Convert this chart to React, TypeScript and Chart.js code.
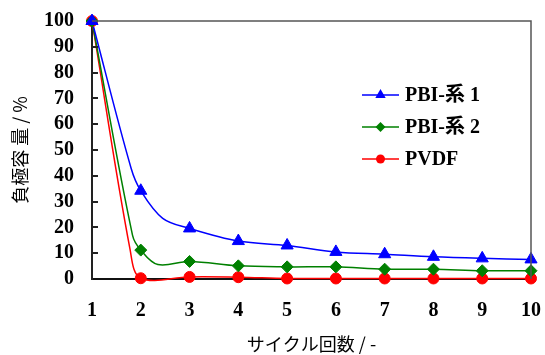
import React, { useEffect, useRef } from 'react';
import { Chart, registerables } from 'chart.js';

Chart.register(...registerables);

// Cycle positions (x) and capacity retention (%) for each series.
// Integer cycles carry markers; fractional positions only shape the curve.
const blueCycles = [1, 1.8, 2, 2.45, 3, 4, 5, 6, 7, 8, 9, 10];
const blueValues = [100, 43, 34.2, 23.5, 19.6, 14.7, 13.0, 10.5, 9.6, 8.6, 8.0, 7.6];
const greenCycles = [1, 1.83, 2, 2.35, 3, 4, 5, 6, 7, 8, 9, 10];
const greenValues = [100, 17, 11.2, 5.6, 6.8, 5.1, 4.7, 4.7, 3.8, 3.8, 3.2, 3.2];
const redCycles = [1, 1.78, 2, 3, 4, 5, 6, 7, 8, 9, 10];
const redValues = [100, 11.5, 0.3, 0.8, 0.7, 0.2, 0.2, 0.2, 0.2, 0.2, 0.2];

const seriesNames = ['PBI-系 1', 'PBI-系 2', 'PVDF'];
const seriesColors = ['#0000ff', '#008000', '#ff0000'];
const seriesMarkers = ['triangle', 'rectRot', 'circle'];
const markerSizes = [7, 6, 5.5];

const xTitle = 'サイクル回数 / -';
const yTitle = '負極容 量 / %';
const xMin = 1, xMax = 10, yMin = 0, yMax = 100, yStep = 10;

const NUM_FONT = '"Liberation Serif", "Times New Roman", serif';
const CJK_FONT = '"Noto Sans CJK JP", "Noto Sans", sans-serif';

function toPoints(xs: number[], ys: number[]) {
  return xs.map((x, i) => ({ x, y: ys[i] }));
}

function drawMarker(ctx: CanvasRenderingContext2D, style: string, x: number, y: number, r: number, color: string) {
  ctx.save();
  ctx.fillStyle = color;
  ctx.strokeStyle = color;
  ctx.beginPath();
  if (style === 'triangle') {
    ctx.moveTo(x, y - r);
    ctx.lineTo(x + r * Math.sqrt(3) / 2, y + r / 2);
    ctx.lineTo(x - r * Math.sqrt(3) / 2, y + r / 2);
    ctx.closePath();
  } else if (style === 'rectRot') {
    ctx.moveTo(x, y - r);
    ctx.lineTo(x + r, y);
    ctx.lineTo(x, y + r);
    ctx.lineTo(x - r, y);
    ctx.closePath();
  } else {
    ctx.arc(x, y, r, 0, Math.PI * 2);
  }
  ctx.fill();
  ctx.restore();
}

const framePlugin = {
  id: 'frameAndLegend',
  afterDatasetsDraw(chart: any) {
    const { ctx, chartArea, scales } = chart;
    const { left, right, top, bottom } = chartArea;
    ctx.save();
    // top and right frame
    ctx.strokeStyle = '#555';
    ctx.lineWidth = 1.5;
    ctx.beginPath();
    ctx.moveTo(left, top);
    ctx.lineTo(right, top);
    ctx.lineTo(right, bottom);
    ctx.stroke();
    // inside tick marks on y axis
    ctx.strokeStyle = '#222';
    ctx.lineWidth = 2;
    for (let v = yMin + yStep; v < yMax; v += yStep) {
      const py = Math.round(scales.y.getPixelForValue(v));
      ctx.beginPath();
      ctx.moveTo(left, py);
      ctx.lineTo(left + 6, py);
      ctx.stroke();
    }
    // legend
    const lx0 = 362, lx1 = 399, tx = 405;
    const rows = [95, 127, 159];
    ctx.font = `bold 20px ${NUM_FONT}, ${CJK_FONT}`;
    ctx.textBaseline = 'middle';
    ctx.textAlign = 'left';
    seriesNames.forEach((name, i) => {
      const y = rows[i];
      ctx.strokeStyle = seriesColors[i];
      ctx.lineWidth = 1.5;
      ctx.beginPath();
      ctx.moveTo(lx0, y);
      ctx.lineTo(lx1, y);
      ctx.stroke();
      drawMarker(ctx, seriesMarkers[i], (lx0 + lx1) / 2, y, markerSizes[i] - 1, seriesColors[i]);
      ctx.fillStyle = '#000';
      ctx.fillText(name, tx, y + 1);
    });
    ctx.restore();
  },
};

export default function App() {
  const ref = useRef<HTMLCanvasElement>(null);
  useEffect(() => {
    if (!ref.current) return;
    const all = [
      { xs: blueCycles, ys: blueValues },
      { xs: greenCycles, ys: greenValues },
      { xs: redCycles, ys: redValues },
    ];
    const lineSets = all.map((s, i) => ({
      label: seriesNames[i] + ' line',
      data: toPoints(s.xs, s.ys),
      borderColor: seriesColors[i],
      borderWidth: 1.5,
      pointRadius: 0,
      tension: 0.35,
      fill: false,
      clip: { left: 2, top: 2, right: 2, bottom: 4 },
      order: 2,
    }));
    const markerSets = all.map((s, i) => ({
      label: seriesNames[i],
      data: toPoints(s.xs, s.ys).filter((p) => Number.isInteger(p.x)),
      showLine: false,
      pointStyle: seriesMarkers[i],
      pointRadius: markerSizes[i],
      pointBackgroundColor: seriesColors[i],
      pointBorderColor: seriesColors[i],
      pointBorderWidth: 1,
      clip: false,
      order: 1,
    }));
    const chart = new Chart(ref.current, {
      type: 'line',
      data: { datasets: [...lineSets, ...markerSets] as any },
      options: {
        animation: false,
        responsive: false,
        events: [],
        elements: { line: { capBezierPoints: false } },
        layout: { padding: { top: 21, right: 14, left: 0, bottom: 0 } },
        plugins: { legend: { display: false }, tooltip: { enabled: false } },
        scales: {
          x: {
            type: 'linear',
            min: xMin,
            max: xMax,
            afterFit: (s: any) => {
              s.height = 76;
              s.paddingLeft = 0;
              s.paddingRight = 0;
            },
            grid: { display: false, drawTicks: false },
            border: { display: true, color: '#111', width: 2 },
            ticks: {
              stepSize: 1,
              autoSkip: false,
              maxRotation: 0,
              padding: 20,
              color: '#000',
              font: { family: NUM_FONT, size: 20, weight: 'bold' },
            },
            title: {
              display: true,
              text: xTitle,
              color: '#000',
              padding: 0,
              font: { family: CJK_FONT, size: 18 },
            },
          },
          y: {
            min: yMin,
            max: yMax,
            afterFit: (s: any) => {
              s.width = 92;
              s.paddingTop = 0;
              s.paddingBottom = 0;
            },
            grid: { display: false, drawTicks: false },
            border: { display: true, color: '#222', width: 2 },
            ticks: {
              stepSize: yStep,
              autoSkip: false,
              padding: 18,
              color: '#000',
              font: { family: NUM_FONT, size: 20, weight: 'bold' },
            },
            title: {
              display: true,
              text: yTitle,
              color: '#000',
              padding: { top: 9, bottom: 0 },
              font: { family: CJK_FONT, size: 18 },
            },
          },
        },
      },
      plugins: [framePlugin],
    } as any);
    return () => chart.destroy();
  }, []);
  return (
    <div style={{ position: 'fixed', left: 0, top: 0, width: 545, height: 355, background: '#fff' }}>
      <canvas ref={ref} width={545} height={355} />
    </div>
  );
}
